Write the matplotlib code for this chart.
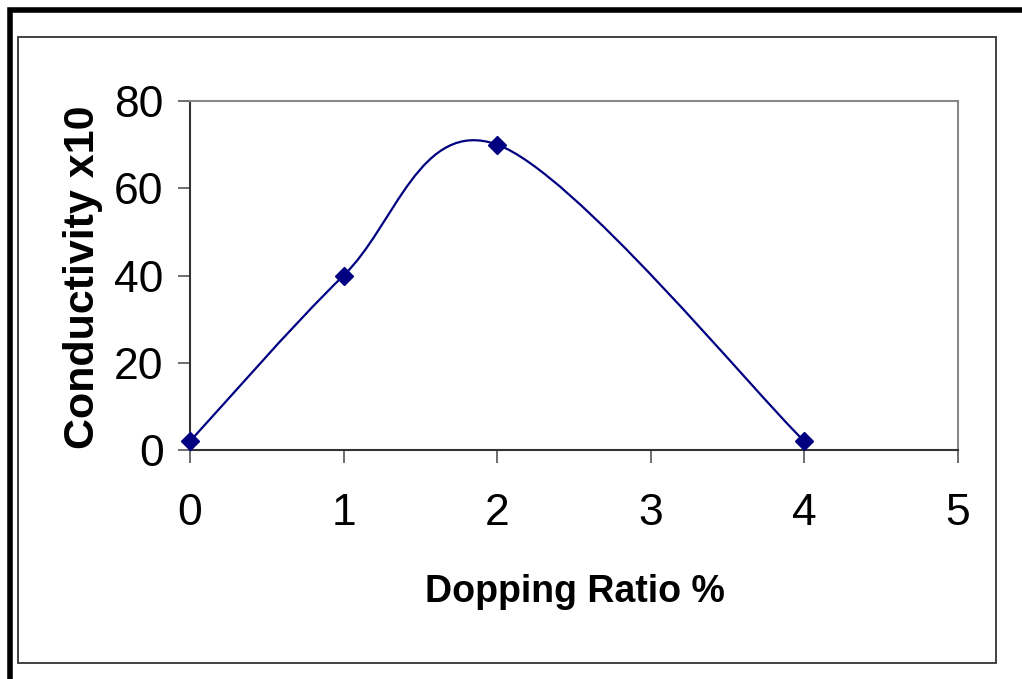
import numpy as np
import matplotlib
matplotlib.use("Agg")
import matplotlib.pyplot as plt
from matplotlib.path import Path
from matplotlib.patches import PathPatch, Rectangle

# datos
dopping = [0, 1, 2, 4]
conductividad = [2, 40, 70, 2]
x_ticks = [0, 1, 2, 3, 4, 5]
y_ticks = [0, 20, 40, 60, 80]

plt.rcParams['font.family'] = ['Liberation Sans', 'DejaVu Sans']

fig = plt.figure(figsize=(10.22, 6.79), dpi=100)
W, H = 1022.0, 679.0

# marcos estilo Excel
fig.patches.append(Rectangle((9.5 / W, -0.1), 1.2, 1 - 10.5 / H + 0.1, transform=fig.transFigure,
                             fill=False, edgecolor='black', linewidth=4))
fig.patches.append(Rectangle((18 / W, 1 - 663 / H), (996 - 18) / W, (663 - 37) / H, transform=fig.transFigure,
                             fill=False, edgecolor='#333333', linewidth=1.3))

ax = fig.add_axes([190 / W, 1 - 450 / H, (958 - 190) / W, (450 - 101) / H])
ax.set_xlim(0, 5)
ax.set_ylim(0, 80)
ax.set_xticks(x_ticks)
ax.set_yticks(y_ticks)
ax.tick_params(axis='both', direction='out', length=9, width=1.2, color='#555555',
               labelsize=32)
ax.tick_params(axis='y', pad=10)
ax.tick_params(axis='x', pad=22)
for s in ['left', 'bottom']:
    ax.spines[s].set_color('#333333')
    ax.spines[s].set_linewidth(1.5)
for s in ['top', 'right']:
    ax.spines[s].set_color('#888888')
    ax.spines[s].set_linewidth(1.5)

# curva suavizada (Bezier tipo Catmull-Rom, como Excel)
pts = np.column_stack([dopping, conductividad]).astype(float)
verts = [tuple(pts[0])]
codes = [Path.MOVETO]
n = len(pts)
for i in range(n - 1):
    p0 = pts[i - 1] if i > 0 else pts[i]
    p1 = pts[i]
    p2 = pts[i + 1]
    p3 = pts[i + 2] if i + 2 < n else pts[i + 1]
    c1 = p1 + (p2 - p0) / 6.0
    c2 = p2 - (p3 - p1) / 6.0
    verts += [tuple(c1), tuple(c2), tuple(p2)]
    codes += [Path.CURVE4] * 3
ax.add_patch(PathPatch(Path(verts, codes), fill=False, edgecolor='#000080', linewidth=1.6,
                       clip_on=False))
ax.plot(dopping, conductividad, linestyle='none', marker='D', markersize=9,
        color='#000080', clip_on=False, zorder=5)

fig.text(575 / W, 1 - 592 / H, 'Dopping Ratio %', ha='center', va='center',
         fontsize=27, fontweight='bold')
fig.text(83 / W, 1 - 277 / H, 'Conductivity x10', ha='center', va='center',
         rotation=90, fontsize=31, fontweight='bold')

fig.savefig('out.png', dpi=100)
